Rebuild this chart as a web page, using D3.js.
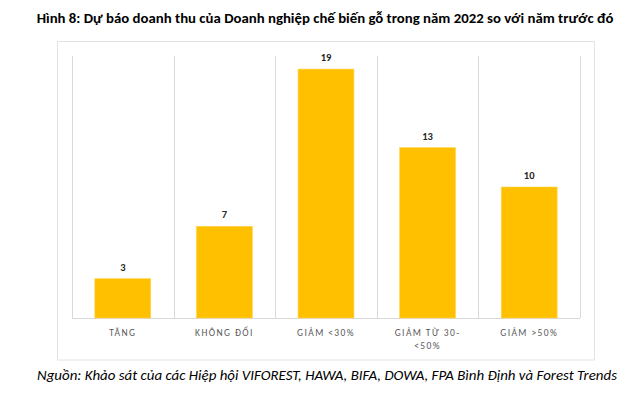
<!DOCTYPE html>
<html>
<head>
<meta charset="utf-8">
<script src="https://cdn.jsdelivr.net/npm/d3@7"></script>
<style>
  body { margin: 0; background: #fff; }
  svg { display: block; }
</style>
</head>
<body>
<svg id="chart" width="640" height="398"></svg>
<script>
const categories = ["TĂNG", "KHÔNG ĐỔI", "GIẢM <30%", "GIẢM TỪ 30-<50%", "GIẢM >50%"];
// category labels split into lines as they wrap in the picture
const categoryLines = [["TĂNG"], ["KHÔNG ĐỔI"], ["GIẢM <30%"], ["GIẢM TỪ 30-", "<50%"], ["GIẢM >50%"]];
const values = [3, 7, 19, 13, 10];

const title = "Hình 8: Dự báo doanh thu của Doanh nghiệp chế biến gỗ trong năm 2022 so với năm trước đó";
const source = "Nguồn: Khảo sát của các Hiệp hội VIFOREST, HAWA, BIFA, DOWA, FPA Bình Định và Forest Trends";

const svg = d3.select("#chart");
const font = "Carlito, 'Open Sans', 'Noto Sans', sans-serif";

// fit a text into a given width by shrinking font size
function fitText(sel, width) {
  let fs = parseFloat(sel.attr("font-size"));
  const len = sel.node().getComputedTextLength();
  sel.attr("font-size", (fs * width / len).toFixed(2));
}

// chart box
svg.append("rect")
  .attr("x", 57.5).attr("y", 41.5)
  .attr("width", 537).attr("height", 318.5)
  .attr("fill", "none")
  .attr("stroke", "#e3e3e3")
  .attr("stroke-width", 1);

const x = d3.scaleBand()
  .domain(categories)
  .range([72, 580])
  .paddingInner(0.45)
  .paddingOuter(0.225);

const y = d3.scaleLinear().domain([0, 20]).range([318, 56]);

// vertical gridlines between categories
const step = x.step();
const bounds = d3.range(categories.length + 1).map(i => 72 + i * step);
svg.append("g").selectAll("line")
  .data(bounds)
  .join("line")
  .attr("x1", d => Math.round(d) + 0.5).attr("x2", d => Math.round(d) + 0.5)
  .attr("y1", y(20)).attr("y2", y(0))
  .attr("stroke", "#d9d9d9")
  .attr("stroke-width", 1);

// baseline
svg.append("line")
  .attr("x1", 72).attr("x2", 580)
  .attr("y1", y(0) + 0.5).attr("y2", y(0) + 0.5)
  .attr("stroke", "#d9d9d9");

// bars
svg.append("g").selectAll("rect")
  .data(values)
  .join("rect")
  .attr("x", (d, i) => x(categories[i]))
  .attr("y", d => y(d))
  .attr("width", x.bandwidth())
  .attr("height", d => y(0) - y(d))
  .attr("fill", "#ffc000")
  .attr("stroke", "#ffd24d")
  .attr("stroke-width", 0.6);

// value labels
svg.append("g").selectAll("text")
  .data(values)
  .join("text")
  .attr("x", (d, i) => x(categories[i]) + x.bandwidth() / 2)
  .attr("y", d => y(d) - 8)
  .attr("text-anchor", "middle")
  .attr("font-family", font)
  .attr("font-size", 10.5)
  .attr("font-weight", "bold")
  .attr("fill", "#262626")
  .text(d => d);

// category labels
const catG = svg.append("g");
categoryLines.forEach((lines, i) => {
  const cx = x(categories[i]) + x.bandwidth() / 2;
  lines.forEach((ln, j) => {
    catG.append("text")
      .attr("x", cx)
      .attr("y", 336 + j * 13)
      .attr("text-anchor", "middle")
      .attr("font-family", font)
      .attr("font-size", 9.5)
      .attr("letter-spacing", 1.4)
      .attr("fill", "#595959")
      .text(ln);
  });
});

// title
const t = svg.append("text")
  .attr("x", 325).attr("y", 23)
  .attr("text-anchor", "middle")
  .attr("font-family", font)
  .attr("font-size", 13)
  .attr("font-weight", "bold")
  .attr("fill", "#000")
  .text(title);
fitText(t, 577);

// source note
const s = svg.append("text")
  .attr("x", 327).attr("y", 380)
  .attr("text-anchor", "middle")
  .attr("font-family", font)
  .attr("font-size", 13)
  .attr("font-style", "italic")
  .attr("fill", "#000")
  .text(source);
fitText(s, 580);
</script>
</body>
</html>
